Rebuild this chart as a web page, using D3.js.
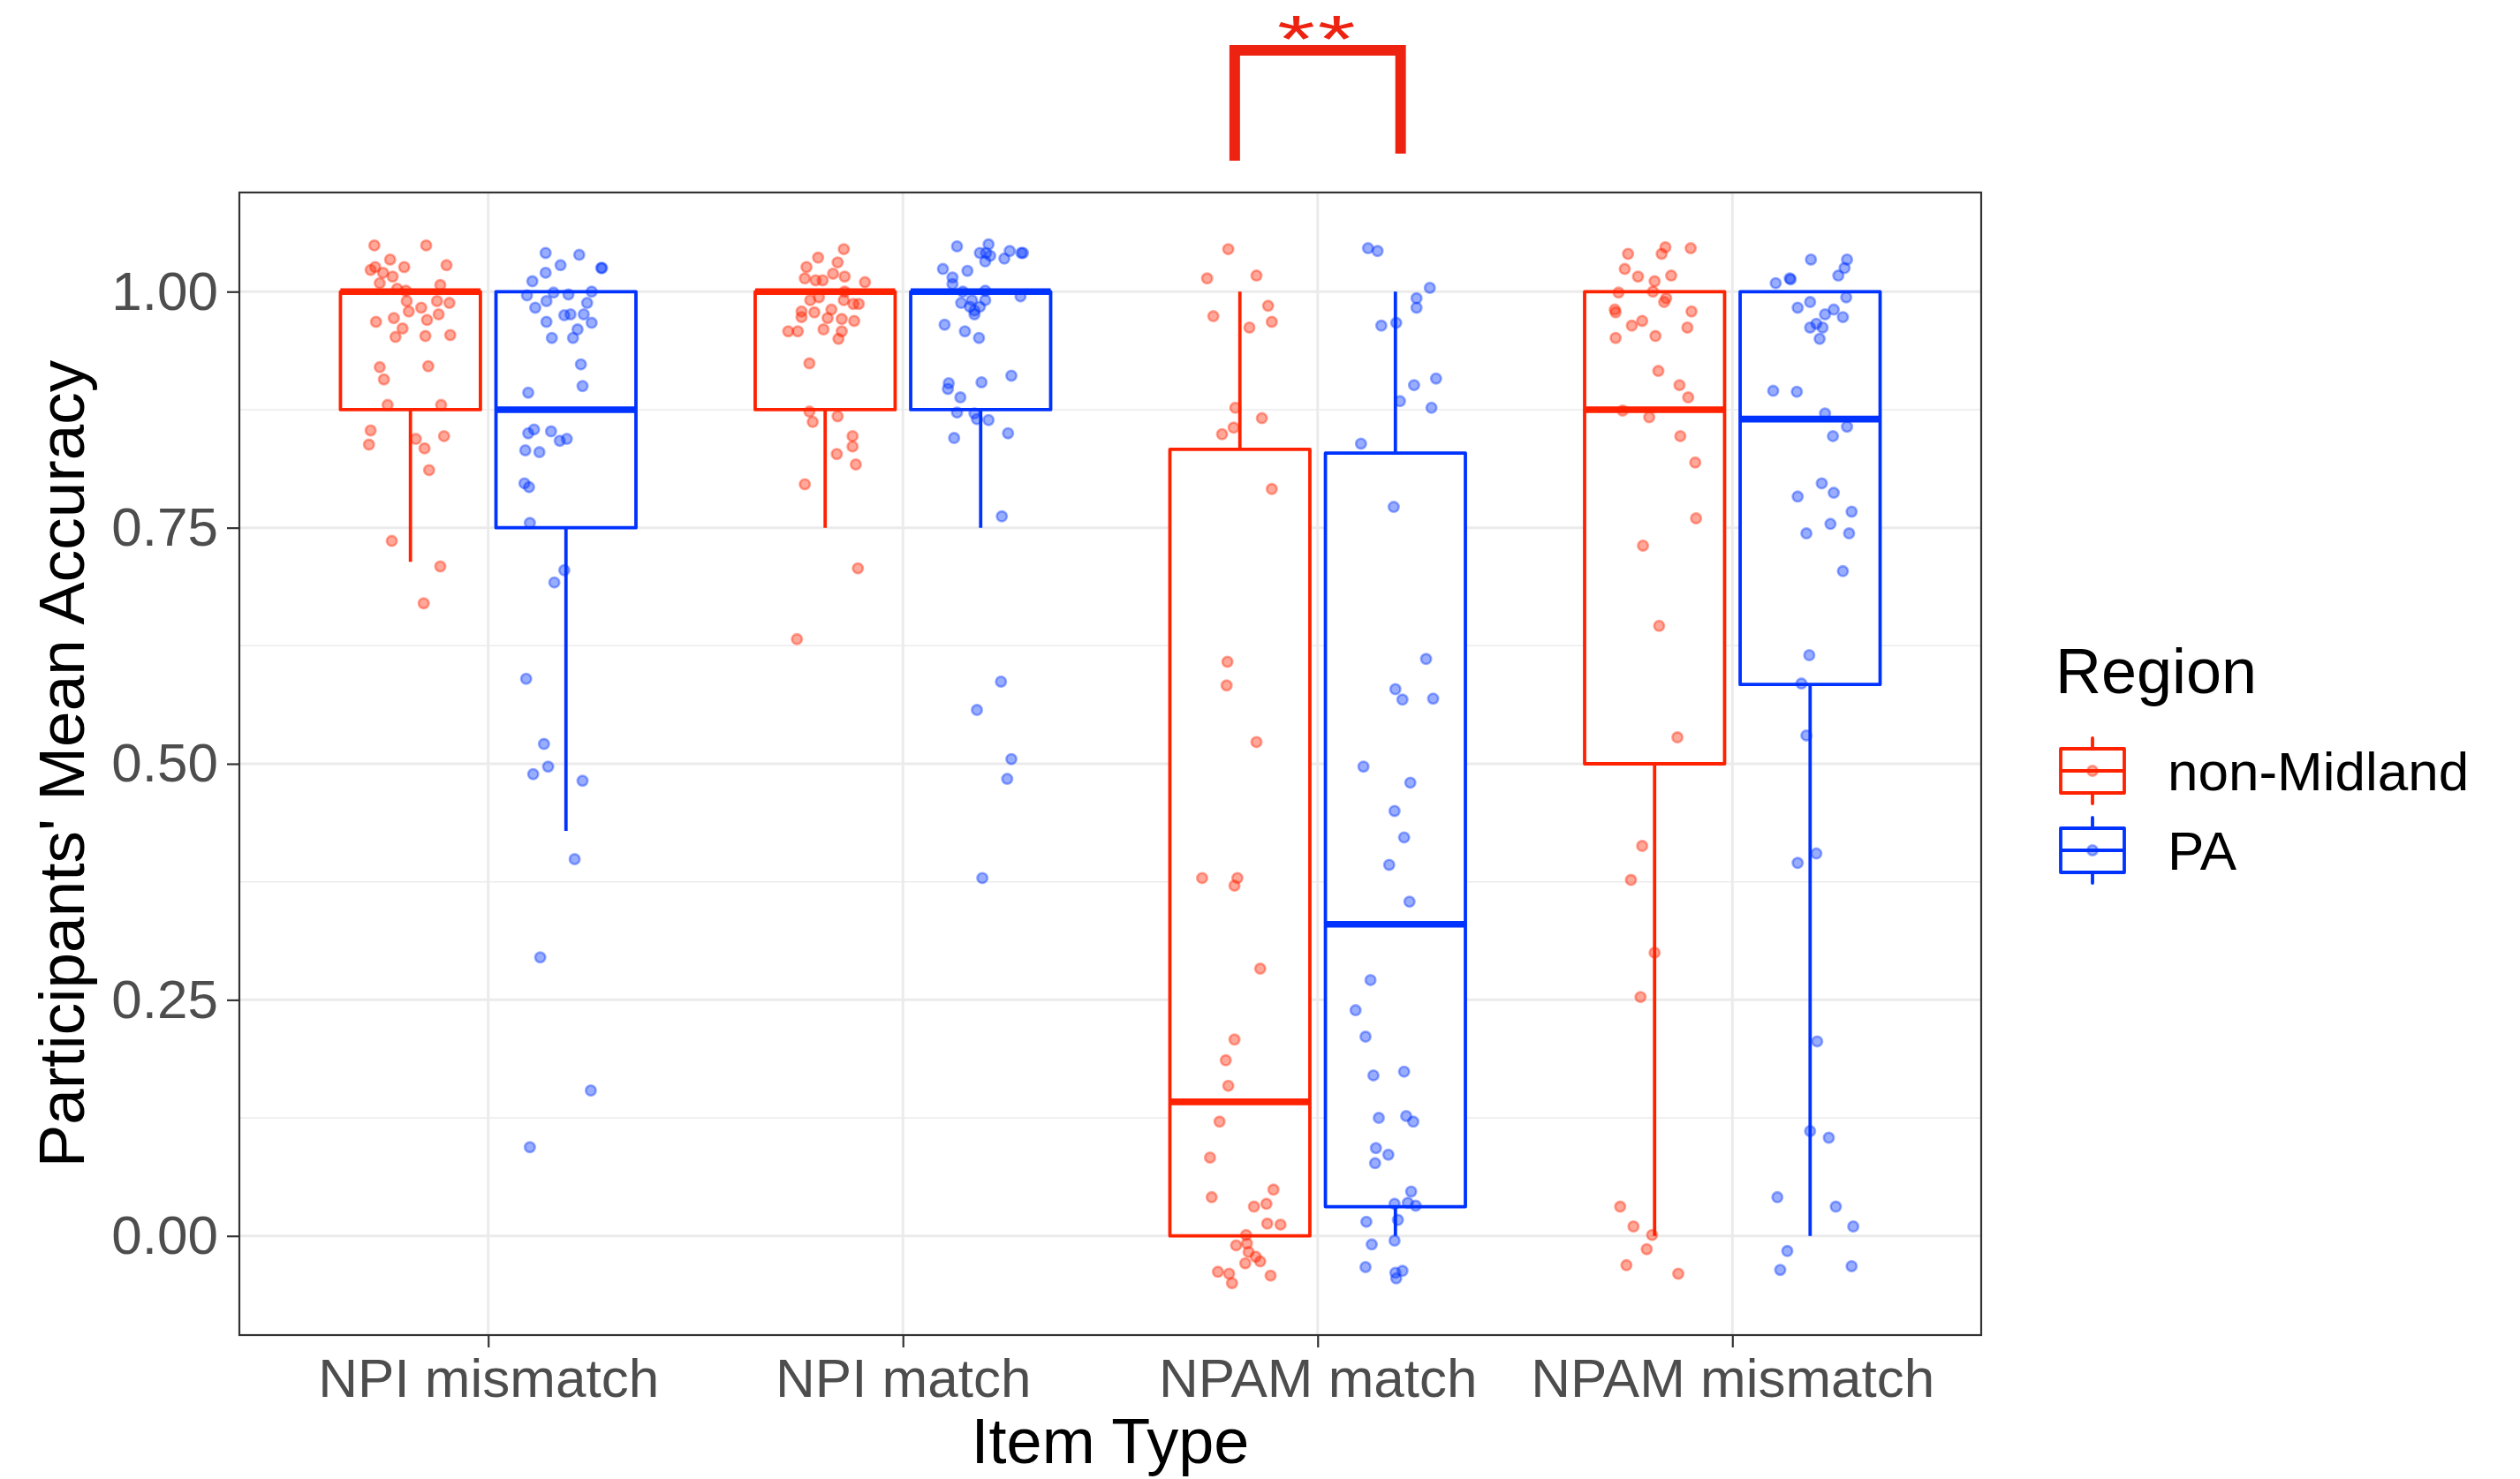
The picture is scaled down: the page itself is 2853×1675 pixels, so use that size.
<!DOCTYPE html>
<html>
<head>
<meta charset="utf-8">
<script src="https://cdn.jsdelivr.net/npm/d3@7"></script>
<style>
  body { margin: 0; background: #fff; }
  svg { display: block; font-family: "Liberation Sans", Arial, Helvetica, sans-serif; }
</style>
</head>
<body>
<svg id="chart" width="2853" height="1675"></svg>
<script>
// categories + groups
const categories = ["NPI mismatch", "NPI match", "NPAM match", "NPAM mismatch"];
const regions = ["non-Midland", "PA"];
const regionColors = ["#FF2200", "#0033FF"];
const yTicks = [0, 0.25, 0.5, 0.75, 1];
const yMinor = [0.125, 0.375, 0.625, 0.875];

// box stats, one value per category
const nmLower  = [0.714, 0.75, 0, 0];
const nmQ1     = [0.875, 0.875, 0, 0.5];
const nmMedian = [1, 1, 0.142, 0.875];
const nmQ3     = [1, 1, 0.833, 1];
const nmUpper  = [1, 1, 1, 1];

const paLower  = [0.429, 0.75, 0, 0];
const paQ1     = [0.75, 0.875, 0.031, 0.584];
const paMedian = [0.875, 1, 0.33, 0.865];
const paQ3     = [1, 1, 0.829, 1];
const paUpper  = [1, 1, 1, 1];

// jittered participant means: [accuracy, horizontal jitter in category units]
const nmNpiMismatch = [[1.049,-0.087],[1.049,0.038],[1.034,-0.049],[1.026,-0.085],[1.023,-0.096],[1.020,-0.066],[1.016,-0.043],[1.026,-0.015],[1.028,0.087],[1.009,-0.074],[1.003,-0.032],[1.001,-0.011],[1.007,0.072],[0.990,-0.009],[0.983,0.026],[0.990,0.064],[0.988,0.094],[0.979,-0.004],[0.976,0.068],[0.970,0.040],[0.972,-0.040],[0.968,-0.083],[0.961,-0.019],[0.952,-0.036],[0.953,0.036],[0.954,0.096],[0.920,-0.074],[0.921,0.043],[0.907,-0.064],[0.880,-0.055],[0.880,0.074],[0.853,-0.096],[0.838,-0.100],[0.844,0.013],[0.834,0.034],[0.847,0.081],[0.811,0.045],[0.736,-0.045],[0.709,0.072],[0.670,0.032]];
const nmNpiMatch = [[1.045,0.045],[1.036,-0.017],[1.031,0.030],[1.026,-0.045],[1.019,0.019],[1.016,0.047],[1.014,-0.049],[1.012,-0.023],[1.012,-0.006],[1.010,0.096],[1.000,0.047],[0.991,-0.036],[0.994,-0.015],[0.991,0.045],[0.987,0.068],[0.987,0.081],[0.979,-0.057],[0.978,-0.026],[0.981,0.015],[0.973,-0.057],[0.972,0.006],[0.971,0.040],[0.969,0.070],[0.958,-0.089],[0.958,-0.066],[0.960,-0.004],[0.958,0.040],[0.950,0.032],[0.924,-0.038],[0.873,-0.038],[0.862,-0.030],[0.868,0.030],[0.847,0.066],[0.836,0.066],[0.828,0.028],[0.817,0.074],[0.796,-0.049],[0.707,0.079],[0.632,-0.068]];
const nmNpamMatch = [[1.045,-0.028],[1.014,-0.079],[1.017,0.040],[0.974,-0.064],[0.985,0.068],[0.962,0.023],[0.968,0.077],[0.877,-0.011],[0.866,0.053],[0.856,-0.015],[0.849,-0.043],[0.791,0.077],[0.608,-0.030],[0.583,-0.032],[0.523,0.040],[0.379,-0.091],[0.379,-0.006],[0.371,-0.013],[0.283,0.049],[0.208,-0.013],[0.186,-0.034],[0.159,-0.028],[0.121,-0.049],[0.083,-0.072],[0.041,-0.068],[0.049,0.081],[0.031,0.034],[0.034,0.064],[0.013,0.066],[0.012,0.098],[0.001,0.015],[-0.010,-0.009],[-0.008,0.017],[-0.017,0.021],[-0.022,0.038],[-0.027,0.049],[-0.029,0.013],[-0.038,-0.053],[-0.040,-0.026],[-0.050,-0.019],[-0.042,0.074]];
const nmNpamMismatch = [[1.040,-0.064],[1.047,0.026],[1.040,0.017],[1.046,0.087],[1.024,-0.072],[1.016,-0.040],[1.011,0],[1.017,0.040],[0.999,-0.087],[1.000,-0.004],[0.993,0.028],[0.989,0.023],[0.981,-0.096],[0.978,-0.094],[0.979,0.089],[0.964,-0.055],[0.969,-0.030],[0.962,0.079],[0.951,-0.094],[0.953,0.002],[0.916,0.009],[0.901,0.060],[0.888,0.081],[0.874,-0.077],[0.867,-0.013],[0.847,0.062],[0.819,0.098],[0.760,0.100],[0.731,-0.028],[0.646,0.011],[0.528,0.055],[0.413,-0.030],[0.377,-0.057],[0.300,0],[0.253,-0.034],[0.031,-0.083],[0.010,-0.051],[0.001,-0.006],[-0.014,-0.019],[-0.031,-0.068],[-0.040,0.057]];

const paNpiMismatch = [[1.041,-0.049],[1.039,0.032],[1.028,-0.013],[1.025,0.087],[1.025,0.085],[1.020,-0.049],[1.011,-0.081],[0.996,-0.094],[0.999,-0.030],[0.997,0.006],[1.000,0.062],[0.990,-0.047],[0.988,0.051],[0.983,-0.074],[0.975,-0.004],[0.976,0.011],[0.976,0.043],[0.968,-0.047],[0.967,0.062],[0.960,0.028],[0.951,-0.034],[0.951,0.017],[0.923,0.036],[0.900,0.040],[0.893,-0.091],[0.854,-0.077],[0.850,-0.091],[0.852,-0.036],[0.844,0.002],[0.842,-0.015],[0.832,-0.098],[0.830,-0.064],[0.797,-0.100],[0.793,-0.089],[0.755,-0.087],[0.705,-0.004],[0.692,-0.028],[0.590,-0.096],[0.521,-0.053],[0.497,-0.043],[0.489,-0.079],[0.482,0.040],[0.399,0.021],[0.295,-0.062],[0.154,0.060],[0.094,-0.087]];
const paNpiMatch = [[1.048,-0.057],[1.050,0.019],[1.041,-0.002],[1.041,0.013],[1.038,0.023],[1.032,0.011],[1.043,0.070],[1.035,0.057],[1.041,0.098],[1.041,0.102],[1.024,-0.091],[1.022,-0.032],[1.015,-0.068],[1.008,-0.068],[1.000,-0.043],[1.001,0.011],[0.995,0.096],[0.988,-0.047],[0.991,-0.021],[0.991,0.011],[0.984,-0.026],[0.984,-0.002],[0.980,-0.015],[0.976,-0.015],[0.965,-0.087],[0.958,-0.038],[0.951,-0.004],[0.911,0.074],[0.903,-0.077],[0.897,-0.079],[0.904,0.002],[0.888,-0.049],[0.872,-0.057],[0.871,-0.015],[0.865,-0.009],[0.864,0.019],[0.845,-0.064],[0.850,0.066],[0.762,0.051],[0.587,0.049],[0.557,-0.009],[0.505,0.074],[0.484,0.064],[0.379,0.004]];
const paNpamMatch = [[1.046,-0.066],[1.043,-0.043],[1.004,0.083],[0.993,0.051],[0.983,0.051],[0.964,-0.034],[0.967,0.002],[0.908,0.098],[0.901,0.045],[0.884,0.011],[0.877,0.087],[0.839,-0.083],[0.772,-0.004],[0.611,0.074],[0.579,0],[0.568,0.017],[0.569,0.091],[0.497,-0.077],[0.480,0.036],[0.450,-0.002],[0.422,0.021],[0.393,-0.015],[0.354,0.034],[0.271,-0.060],[0.239,-0.096],[0.211,-0.072],[0.170,-0.053],[0.174,0.021],[0.125,-0.040],[0.127,0.026],[0.121,0.043],[0.093,-0.047],[0.086,-0.017],[0.077,-0.049],[0.047,0.038],[0.034,-0.002],[0.035,0.030],[0.032,0.049],[0.015,-0.070],[0.017,0.006],[-0.005,-0.002],[-0.009,-0.057],[-0.033,-0.072],[-0.039,0],[-0.037,0.017],[-0.045,0.002]];
const paNpamMismatch = [[1.034,0.002],[1.034,0.089],[1.025,0.083],[1.017,0.068],[1.009,-0.083],[1.014,-0.049],[1.013,-0.047],[0.994,0.087],[0.983,-0.030],[0.989,0],[0.976,0.036],[0.981,0.057],[0.973,0.079],[0.966,0.015],[0.962,0],[0.962,0.030],[0.950,0.023],[0.895,-0.089],[0.894,-0.032],[0.871,0.036],[0.857,0.089],[0.847,0.055],[0.797,0.028],[0.787,0.057],[0.783,-0.030],[0.767,0.100],[0.754,0.049],[0.744,-0.009],[0.744,0.094],[0.704,0.079],[0.615,-0.002],[0.585,-0.021],[0.530,-0.009],[0.405,0.015],[0.395,-0.030],[0.206,0.017],[0.111,0],[0.104,0.045],[0.041,-0.079],[0.031,0.062],[0.010,0.104],[-0.016,-0.055],[-0.036,-0.072],[-0.032,0.100]];

const boxStats = [
  {lower: nmLower, q1: nmQ1, median: nmMedian, q3: nmQ3, upper: nmUpper},
  {lower: paLower, q1: paQ1, median: paMedian, q3: paQ3, upper: paUpper}
];
const pointSets = [
  [nmNpiMismatch, nmNpiMatch, nmNpamMatch, nmNpamMismatch],
  [paNpiMismatch, paNpiMatch, paNpamMatch, paNpamMismatch]
];

const svg = d3.select("#chart");
const panel = {left: 271, right: 2243, top: 218, bottom: 1512};

const x = d3.scalePoint().domain(categories).range([panel.left, panel.right]).padding(0.6);
const step = x.step();
const dodge = d3.scaleBand().domain(regions).range([-0.375, 0.375]);
const boxW = dodge.bandwidth() * 0.9 * step;
const y = d3.scaleLinear().domain([-0.105, 1.105]).range([panel.bottom, panel.top]);
const color = d3.scaleOrdinal().domain(regions).range(regionColors);

const cx = (cat, reg) => x(cat) + (dodge(reg) + dodge.bandwidth() / 2) * step;

// panel grid
const grid = svg.append("g");
grid.selectAll(".minor").data(yMinor).join("line")
  .attr("x1", panel.left).attr("x2", panel.right)
  .attr("y1", d => y(d)).attr("y2", d => y(d))
  .attr("stroke", "#EBEBEB").attr("stroke-width", 1.6);
grid.selectAll(".major").data(yTicks).join("line")
  .attr("x1", panel.left).attr("x2", panel.right)
  .attr("y1", d => y(d)).attr("y2", d => y(d))
  .attr("stroke", "#EBEBEB").attr("stroke-width", 3);
grid.selectAll(".vmajor").data(categories).join("line")
  .attr("x1", d => x(d)).attr("x2", d => x(d))
  .attr("y1", panel.top).attr("y2", panel.bottom)
  .attr("stroke", "#EBEBEB").attr("stroke-width", 3);

// boxplots
const boxes = [];
regions.forEach((r, ri) => categories.forEach((c, ci) => {
  const s = boxStats[ri];
  boxes.push({region: r, cat: c, lower: s.lower[ci], q1: s.q1[ci], median: s.median[ci], q3: s.q3[ci], upper: s.upper[ci]});
}));

const bg = svg.append("g").selectAll("g").data(boxes).join("g");
bg.append("line")
  .attr("x1", d => cx(d.cat, d.region)).attr("x2", d => cx(d.cat, d.region))
  .attr("y1", d => y(d.q3)).attr("y2", d => y(d.upper))
  .attr("stroke", d => color(d.region)).attr("stroke-width", 3.8);
bg.append("line")
  .attr("x1", d => cx(d.cat, d.region)).attr("x2", d => cx(d.cat, d.region))
  .attr("y1", d => y(d.q1)).attr("y2", d => y(d.lower))
  .attr("stroke", d => color(d.region)).attr("stroke-width", 3.8);
bg.append("rect")
  .attr("x", d => cx(d.cat, d.region) - boxW / 2)
  .attr("width", boxW)
  .attr("y", d => y(d.q3))
  .attr("height", d => y(d.q1) - y(d.q3))
  .attr("fill", "#fff")
  .attr("stroke", d => color(d.region)).attr("stroke-width", 3.8)
  .attr("stroke-linejoin", "round");
bg.append("line")
  .attr("x1", d => cx(d.cat, d.region) - boxW / 2).attr("x2", d => cx(d.cat, d.region) + boxW / 2)
  .attr("y1", d => y(d.median)).attr("y2", d => y(d.median))
  .attr("stroke", d => color(d.region)).attr("stroke-width", 7.6);

// jittered points
const pts = [];
regions.forEach((r, ri) => categories.forEach((c, ci) => {
  pointSets[ri][ci].forEach(([v, j]) => pts.push({region: r, cat: c, v, j}));
}));
svg.append("g").selectAll("circle").data(pts).join("circle")
  .attr("cx", d => cx(d.cat, d.region) + d.j * step)
  .attr("cy", d => y(d.v))
  .attr("r", 5.7)
  .attr("fill", d => color(d.region)).attr("fill-opacity", 0.4)
  .attr("stroke", d => color(d.region)).attr("stroke-opacity", 0.4)
  .attr("stroke-width", 2.6);

// panel border
svg.append("rect")
  .attr("x", panel.left).attr("y", panel.top)
  .attr("width", panel.right - panel.left).attr("height", panel.bottom - panel.top)
  .attr("fill", "none").attr("stroke", "#333").attr("stroke-width", 2.2);

// axes
const yAxis = svg.append("g").attr("transform", `translate(${panel.left},0)`)
  .call(d3.axisLeft(y).tickValues(yTicks).tickFormat(d3.format(".2f")).tickSize(14).tickPadding(10));
const xAxis = svg.append("g").attr("transform", `translate(0,${panel.bottom})`)
  .call(d3.axisBottom(x).tickSize(14).tickPadding(12));
[yAxis, xAxis].forEach(a => {
  a.select(".domain").remove();
  a.selectAll(".tick line").attr("stroke", "#333").attr("stroke-width", 2.2);
  a.selectAll(".tick text").attr("fill", "#4D4D4D").attr("font-size", 62)
    .attr("font-family", "Liberation Sans, Arial, sans-serif");
});

// axis titles
svg.append("text")
  .attr("x", (panel.left + panel.right) / 2).attr("y", 1657)
  .attr("text-anchor", "middle").attr("font-size", 72).attr("fill", "#000")
  .text("Item Type");
svg.append("text")
  .attr("transform", `translate(95,${(panel.top + panel.bottom) / 2}) rotate(-90)`)
  .attr("text-anchor", "middle").attr("font-size", 73).attr("fill", "#000")
  .text("Participants' Mean Accuracy");

// legend
const legend = svg.append("g");
legend.append("text").attr("x", 2327).attr("y", 785)
  .attr("font-size", 72).attr("fill", "#000").text("Region");
const keys = legend.selectAll(".key").data(regions).join("g")
  .attr("transform", (d, i) => `translate(2369,${873 + i * 90})`);
keys.append("line").attr("y1", -37).attr("y2", 37)
  .attr("stroke", d => color(d)).attr("stroke-width", 3.8).attr("stroke-linecap", "round");
keys.append("rect").attr("x", -36).attr("y", -25).attr("width", 72).attr("height", 50)
  .attr("fill", "#fff").attr("stroke", d => color(d)).attr("stroke-width", 3.8)
  .attr("stroke-linejoin", "round");
keys.append("line").attr("x1", -36).attr("x2", 36)
  .attr("stroke", d => color(d)).attr("stroke-width", 3.8);
keys.append("circle").attr("r", 5.7)
  .attr("fill", d => color(d)).attr("fill-opacity", 0.4)
  .attr("stroke", d => color(d)).attr("stroke-opacity", 0.4).attr("stroke-width", 2.6);
keys.append("text").attr("x", 85).attr("y", 22)
  .attr("font-size", 62).attr("fill", "#000").text(d => d);

// significance bracket over NPAM match
const bx1 = x("NPAM match") - 0.2 * step, bx2 = x("NPAM match") + 0.2 * step;
svg.append("path")
  .attr("d", `M${bx1},182 V57 H${bx2} V174`)
  .attr("fill", "none").attr("stroke", "#EE2211").attr("stroke-width", 12);
svg.append("text")
  .attr("transform", `translate(${(bx1 + bx2) / 2},70) scale(1.45,1)`)
  .attr("text-anchor", "middle").attr("font-size", 76).attr("fill", "#EE2211")
  .attr("letter-spacing", 2)
  .text("**");
</script>
</body>
</html>
